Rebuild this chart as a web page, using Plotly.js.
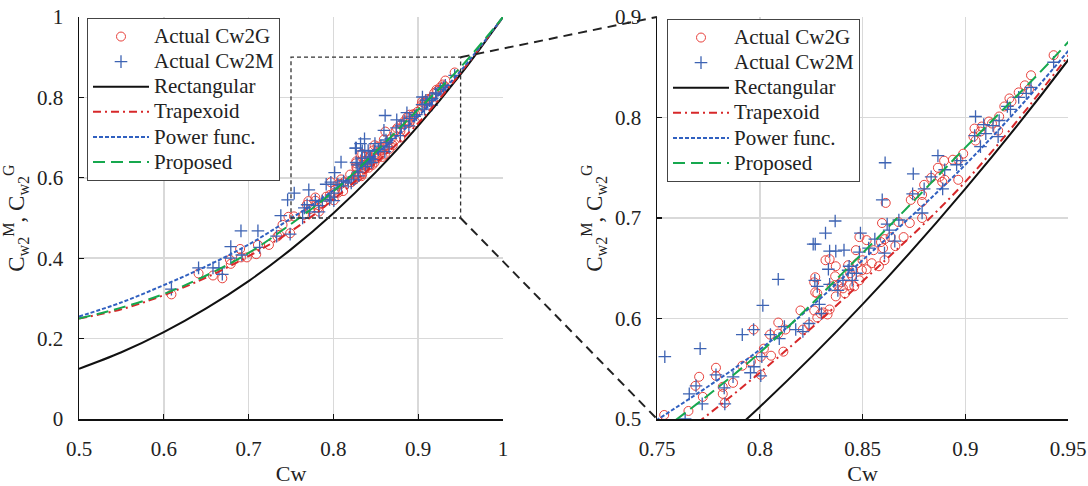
<!DOCTYPE html>
<html>
<head>
<meta charset="utf-8">
<script src="https://cdn.plot.ly/plotly-3.0.1.min.js"></script>
<style>
html,body{margin:0;padding:0;background:#fff;}
#chart{width:1088px;height:486px;}
</style>
</head>
<body>
<div id="chart"></div>
<script>
// ---- measured data: Actual Cw2G (red circles) ----
var cw2gX = [0.609,0.641,0.658,0.669,0.678,0.679,0.690,0.691,0.698,0.709,0.711,0.724,0.734,0.736,0.740,0.747,0.749,
  0.7535,0.7653,0.7687,0.7705,0.7723,0.7787,0.7787,0.782,0.782,0.783,0.787,0.7915,0.7957,0.797,0.8005,0.8005,0.802,
  0.8055,0.805,0.809,0.809,0.8115,0.8125,0.8198,0.821,0.824,0.8265,0.8265,0.827,0.827,0.828,0.828,0.8297,0.831,
  0.832,0.834,0.834,0.833,0.835,0.8367,0.837,0.837,0.838,0.8397,0.8405,0.8415,0.843,0.844,0.8435,0.845,0.846,
  0.8468,0.8475,0.8485,0.8485,0.8497,0.850,0.852,0.852,0.8545,0.8554,0.858,0.859,0.8595,0.860,0.8608,0.8613,
  0.8607,0.8637,0.866,0.8675,0.870,0.873,0.8735,0.875,0.879,0.879,0.879,0.880,0.8834,0.8867,0.8875,0.8888,
  0.8897,0.890,0.894,0.8966,0.8966,0.899,0.9045,0.904,0.905,0.9074,0.908,0.9115,0.913,0.916,0.9165,0.919,
  0.9215,0.9225,0.926,0.929,0.932,0.931,0.943];
var cw2gY = [0.310,0.362,0.357,0.350,0.396,0.386,0.423,0.402,0.402,0.410,0.433,0.433,0.454,0.458,0.483,0.503,0.462,
  0.504,0.508,0.533,0.542,0.522,0.551,0.543,0.532,0.525,0.516,0.536,0.553,0.557,0.589,0.544,0.562,0.570,
  0.563,0.584,0.596,0.585,0.567,0.589,0.608,0.589,0.594,0.608,0.636,0.641,0.626,0.625,0.601,0.605,0.606,
  0.658,0.609,0.659,0.604,0.632,0.642,0.652,0.622,0.633,0.636,0.630,0.625,0.653,0.645,0.633,0.642,0.632,
  0.668,0.655,0.681,0.638,0.648,0.658,0.678,0.649,0.655,0.668,0.652,0.676,0.695,0.670,0.679,0.715,
  0.658,0.681,0.672,0.696,0.681,0.695,0.718,0.723,0.700,0.716,0.723,0.733,0.740,0.750,0.741,0.736,
  0.757,0.738,0.758,0.738,0.758,0.764,0.789,0.781,0.777,0.786,0.791,0.796,0.794,0.787,0.801,0.811,
  0.819,0.816,0.825,0.832,0.842,0.828,0.862];

// ---- measured data: Actual Cw2M (blue crosses) ----
var cw2mX = [0.609,0.641,0.658,0.665,0.669,0.679,0.679,0.691,0.692,0.711,0.713,0.733,0.738,0.746,0.749,
  0.7538,0.7637,0.7657,0.769,0.771,0.772,0.7787,0.7827,0.783,0.787,0.7915,0.7955,0.797,0.7972,0.8005,0.801,
  0.8015,0.8052,0.809,0.8095,0.812,0.8175,0.821,0.824,0.826,0.827,0.8268,0.828,0.829,0.830,0.832,0.8334,
  0.834,0.834,0.8367,0.837,0.838,0.841,0.8405,0.843,0.8435,0.845,0.847,0.8485,0.849,0.853,0.856,0.8596,
  0.8607,0.861,0.862,0.863,0.8657,0.8677,0.8747,0.8744,0.879,0.880,0.8834,0.8867,0.889,0.890,0.8958,0.8978,
  0.905,0.9046,0.9074,0.909,0.910,0.9135,0.916,0.9165,0.9205,0.922,0.926,0.9297,0.932,0.943];
var cw2mY = [0.323,0.376,0.376,0.376,0.360,0.429,0.400,0.468,0.408,0.468,0.427,0.455,0.506,0.545,0.460,
  0.562,0.500,0.525,0.533,0.570,0.515,0.544,0.531,0.515,0.542,0.584,0.546,0.589,0.552,0.543,0.562,
  0.613,0.584,0.639,0.580,0.592,0.589,0.587,0.595,0.674,0.674,0.638,0.632,0.614,0.605,0.685,0.649,
  0.634,0.667,0.697,0.667,0.628,0.668,0.638,0.648,0.652,0.638,0.645,0.666,0.685,0.670,0.679,0.718,
  0.665,0.755,0.694,0.688,0.677,0.698,0.744,0.724,0.705,0.729,0.741,0.762,0.729,0.748,0.753,0.757,
  0.801,0.782,0.771,0.793,0.784,0.792,0.781,0.797,0.811,0.808,0.820,0.824,0.830,0.855];

// ---- model curves ----
var cwGrid      = [0.50, 0.55, 0.60, 0.65, 0.70, 0.75, 0.80, 0.85, 0.90, 0.95, 1.00];
var rectangular = [0.125,0.166,0.216,0.275,0.343,0.422,0.512,0.614,0.729,0.857,1.000];
var trapexoid   = [0.250,0.273,0.308,0.352,0.405,0.467,0.546,0.637,0.736,0.861,1.000];
var powerFunc   = [0.255,0.290,0.333,0.380,0.434,0.499,0.569,0.658,0.753,0.866,1.000];
var proposed    = [0.250,0.277,0.311,0.357,0.413,0.485,0.566,0.665,0.770,0.875,1.000];

var seriesNames = ['Actual Cw2G', 'Actual Cw2M', 'Rectangular', 'Trapexoid', 'Power func.', 'Proposed'];

var leftXTicks  = [0.5,0.6,0.7,0.8,0.9,1];
var leftYTicks  = [0,0.2,0.4,0.6,0.8,1];
var rightXTicks = [0.75,0.8,0.85,0.9,0.95];
var rightYTicks = [0.5,0.6,0.7,0.8,0.9];

// ---- layout geometry ----
var W = 1088, H = 486;
var xDomL = [79/W, 503/W], xDomR = [657/W, 1068/W];
var yDom  = [(H-419)/H, (H-17)/H];
var xRngL = [0.5, 1], yRngL = [0, 1];
var xRngR = [0.75, 0.95], yRngR = [0.5, 0.9];

var FONT = 'Liberation Serif';
var RED = '#e8413c', BLUE = '#3d63b3', GREEN = '#16a84e', DRED = '#d7282a', DBLUE = '#3060c0';

function nm(i) { return '<span style="font-size:21px">' + seriesNames[i] + '</span>'; }

function seriesSet(xa, ya, leg) {
  return [
    {x: cw2gX, y: cw2gY, xaxis: xa, yaxis: ya, legend: leg, mode: 'markers', type: 'scatter',
     name: nm(0), marker: {symbol: 'circle-open', size: 9, color: RED, line: {width: 1, color: RED}}},
    {x: cw2mX, y: cw2mY, xaxis: xa, yaxis: ya, legend: leg, mode: 'markers', type: 'scatter',
     name: nm(1), marker: {symbol: 'cross-thin-open', size: 9, color: BLUE, line: {width: 1.3, color: BLUE}}},
    {x: cwGrid, y: rectangular, xaxis: xa, yaxis: ya, legend: leg, mode: 'lines', type: 'scatter',
     name: nm(2), line: {color: '#111', width: 2, shape: 'spline'}},
    {x: cwGrid, y: trapexoid, xaxis: xa, yaxis: ya, legend: leg, mode: 'lines', type: 'scatter',
     name: nm(3), line: {color: DRED, width: 2, dash: '8px,4px,2px,4px', shape: 'spline'}},
    {x: cwGrid, y: powerFunc, xaxis: xa, yaxis: ya, legend: leg, mode: 'lines', type: 'scatter',
     name: nm(4), line: {color: DBLUE, width: 2, dash: '4px,2px', shape: 'spline'}},
    {x: cwGrid, y: proposed, xaxis: xa, yaxis: ya, legend: leg, mode: 'lines', type: 'scatter',
     name: nm(5), line: {color: GREEN, width: 2, dash: '12px,6px', shape: 'spline'}}
  ];
}
var data = seriesSet('x', 'y', 'legend').concat(seriesSet('x2', 'y2', 'legend2'));

function axisBase(extra) {
  var a = {
    showgrid: true, gridcolor: '#d9d9d9', gridwidth: 1.5, zeroline: false,
    showline: true, linecolor: '#111', linewidth: 1.5, mirror: false,
    ticks: 'inside', ticklen: 5, tickwidth: 1.2, tickcolor: '#111',
    tickfont: {family: FONT, size: 21, color: '#222'}, ticklabelstandoff: 10,
    automargin: false, fixedrange: true
  };
  for (var k in extra) a[k] = extra[k];
  return a;
}

function px(dom, rng, v) { return dom[0] + (v - rng[0]) / (rng[1] - rng[0]) * (dom[1] - dom[0]); }

var yTitle = 'C<sub>w2</sub><sup>M</sup>, C<sub>w2</sub><sup>G</sup>';

var legendBase = {
  bgcolor: '#fff', bordercolor: '#444', borderwidth: 1,
  font: {family: FONT, size: 17, color: '#222'},
  xanchor: 'left', yanchor: 'top', itemwidth: 56, tracegroupgap: 0
};
var leg1 = Object.assign({}, legendBase, {x: 87/W, y: 1 - 18/H});
var leg2 = Object.assign({}, legendBase, {x: 667/W, y: 1 - 19/H});

var layout = {
  width: W, height: H,
  margin: {l: 0, r: 0, t: 0, b: 0},
  paper_bgcolor: '#fff', plot_bgcolor: '#fff',
  font: {family: FONT, color: '#222'},
  xaxis: axisBase({domain: xDomL, range: xRngL, tickvals: leftXTicks, anchor: 'y',
    title: {text: 'Cw', font: {family: FONT, size: 22}, standoff: 8}}),
  yaxis: axisBase({domain: yDom, range: yRngL, tickvals: leftYTicks, anchor: 'x',
    title: {text: yTitle, font: {family: FONT, size: 23}, standoff: 6}}),
  xaxis2: axisBase({domain: xDomR, range: xRngR, tickvals: rightXTicks, anchor: 'y2',
    title: {text: 'Cw', font: {family: FONT, size: 22}, standoff: 8}}),
  yaxis2: axisBase({domain: yDom, range: yRngR, tickvals: rightYTicks, anchor: 'x2',
    title: {text: yTitle, font: {family: FONT, size: 23}, standoff: 6}}),
  legend: leg1,
  legend2: leg2,
  shapes: [
    {type: 'rect', xref: 'x', yref: 'y', x0: xRngR[0], x1: xRngR[1], y0: yRngR[0], y1: yRngR[1],
     line: {color: '#333', width: 1.3, dash: '4px,3px'}, layer: 'above'},
    {type: 'line', xref: 'paper', yref: 'paper',
     x0: px(xDomL, xRngL, xRngR[1]), y0: px(yDom, yRngL, yRngR[1]),
     x1: xDomR[0], y1: yDom[1], line: {color: '#222', width: 2, dash: '9px,6px'}},
    {type: 'line', xref: 'paper', yref: 'paper',
     x0: px(xDomL, xRngL, xRngR[1]), y0: px(yDom, yRngL, yRngR[0]),
     x1: xDomR[0], y1: yDom[0], line: {color: '#222', width: 2, dash: '9px,6px'}}
  ]
};

Plotly.newPlot('chart', data, layout, {staticPlot: true, displayModeBar: false});
</script>
</body>
</html>
